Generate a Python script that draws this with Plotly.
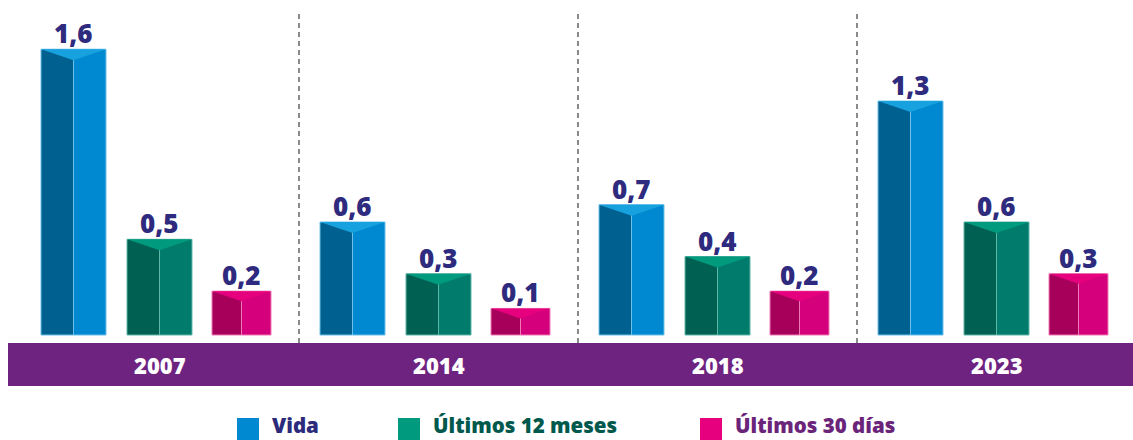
import plotly.graph_objects as go

# ---- data ----
years = ["2007", "2014", "2018", "2023"]
series_names = ["Vida", "Últimos 12 meses", "Últimos 30 días"]
vida = [1.6, 0.6, 0.7, 1.3]
ultimos_12 = [0.5, 0.3, 0.4, 0.6]
ultimos_30 = [0.2, 0.1, 0.2, 0.3]

# ---- styles ----
W, H = 1133, 440
PX_PER_GROUP = 279.0
X0_PX = 159.5           # pixel center of first group
PX_PER_UNIT = 172.8
ZERO_PX = 325.7
BOTTOM_PX = 335.0
BASE = -(BOTTOM_PX - ZERO_PX) / PX_PER_UNIT

styles = [
    dict(off=-86, hw=32.5, depth=11, left="#00608f", right="#0089d0", top="#17a1de", edge="#6cc0ea", leg="#0089d0", txt="#2b2a7b"),
    dict(off=0, hw=32.5, depth=11, left="#006152", right="#007b6c", top="#009a7e", edge="#5fb7a8", leg="#009a7e", txt="#00594c"),
    dict(off=82, hw=29.5, depth=10, left="#a6005b", right="#d5007b", top="#e6007e", edge="#f07ab5", leg="#e6007e", txt="#6a2479"),
]
LABEL_COLOR = "#2e2a7e"
BAND_COLOR = "#6e2381"
FONT = "Open Sans"

fig = go.Figure()
all_series = [vida, ultimos_12, ultimos_30]
group_idx = list(range(len(years)))

for vals, st in zip(all_series, styles):
    off = st["off"] / PX_PER_GROUP
    hw = st["hw"] / PX_PER_GROUP
    d = st["depth"] / PX_PER_UNIT
    xs = [g + off for g in group_idx]
    lengths = [v - BASE for v in vals]
    # left face
    fig.add_trace(go.Bar(x=xs, y=lengths, base=BASE, width=hw, offset=-hw,
                         marker=dict(color=st["left"], line=dict(color=st["edge"], width=1)),
                         showlegend=False, hoverinfo="skip"))
    # right face
    fig.add_trace(go.Bar(x=xs, y=lengths, base=BASE, width=hw, offset=0,
                         marker=dict(color=st["right"], line=dict(color=st["edge"], width=1)),
                         showlegend=False, hoverinfo="skip"))
    # top face (triangle)
    tx, ty = [], []
    for x, v in zip(xs, vals):
        tx += [x - hw, x + hw, x, x - hw, None]
        ty += [v, v, v - d, v, None]
    fig.add_trace(go.Scatter(x=tx, y=ty, mode="lines", fill="toself", fillcolor=st["top"],
                             line=dict(width=0), showlegend=False, hoverinfo="skip"))
    # value labels
    for x, v in zip(xs, vals):
        fig.add_annotation(x=x, y=v, text=f"{v:.1f}".replace(".", ","), showarrow=False,
                           yanchor="bottom", yshift=-4,
                           font=dict(family=FONT, size=26, color=LABEL_COLOR, weight=800))

# separators
for g in group_idx[:-1]:
    fig.add_shape(type="line", xref="x", yref="paper", x0=g + 0.5, x1=g + 0.5,
                  y0=1 - 343 / H, y1=1 - 14 / H,
                  line=dict(color="#8a8a8a", width=2, dash="5px,4px"))

# purple band
fig.add_shape(type="rect", xref="paper", yref="paper", x0=8 / W, x1=1, y0=1 - 386 / H, y1=1 - 343 / H,
              fillcolor=BAND_COLOR, line=dict(width=0), layer="below")
for g, yr in zip(group_idx, years):
    fig.add_annotation(x=g, y=1 - 365 / H, yref="paper", text=yr, showarrow=False,
                       xanchor="center", yanchor="middle",
                       font=dict(family=FONT, size=22, color="white", weight=800))

# legend (manual)
leg_sq_x = [237, 398, 700]
for name, st, sx in zip(series_names, styles, leg_sq_x):
    fig.add_shape(type="rect", xref="paper", yref="paper", x0=sx / W, x1=(sx + 22) / W,
                  y0=0, y1=1 - 418 / H, fillcolor=st["leg"], line=dict(width=0))
    fig.add_annotation(x=(sx + 34) / W, y=1 - 425 / H, xref="paper", yref="paper", text=name,
                       showarrow=False, xanchor="left", yanchor="middle", borderpad=0,
                       font=dict(family=FONT, size=20.5, color=st["txt"], weight=800))

x_lo = -X0_PX / PX_PER_GROUP
x_hi = (W - X0_PX) / PX_PER_GROUP
y_hi = ZERO_PX / PX_PER_UNIT
y_lo = (ZERO_PX - H) / PX_PER_UNIT

fig.update_layout(
    width=W, height=H, margin=dict(l=0, r=0, t=0, b=0),
    paper_bgcolor="white", plot_bgcolor="white",
    barmode="overlay", hovermode=False, showlegend=False,
    xaxis=dict(range=[x_lo, x_hi], visible=False, fixedrange=True),
    yaxis=dict(range=[y_lo, y_hi], visible=False, fixedrange=True),
)

fig.write_html("out.html", config={"displayModeBar": False},
               post_script="document.body.style.margin='0';document.body.style.overflow='hidden';")
